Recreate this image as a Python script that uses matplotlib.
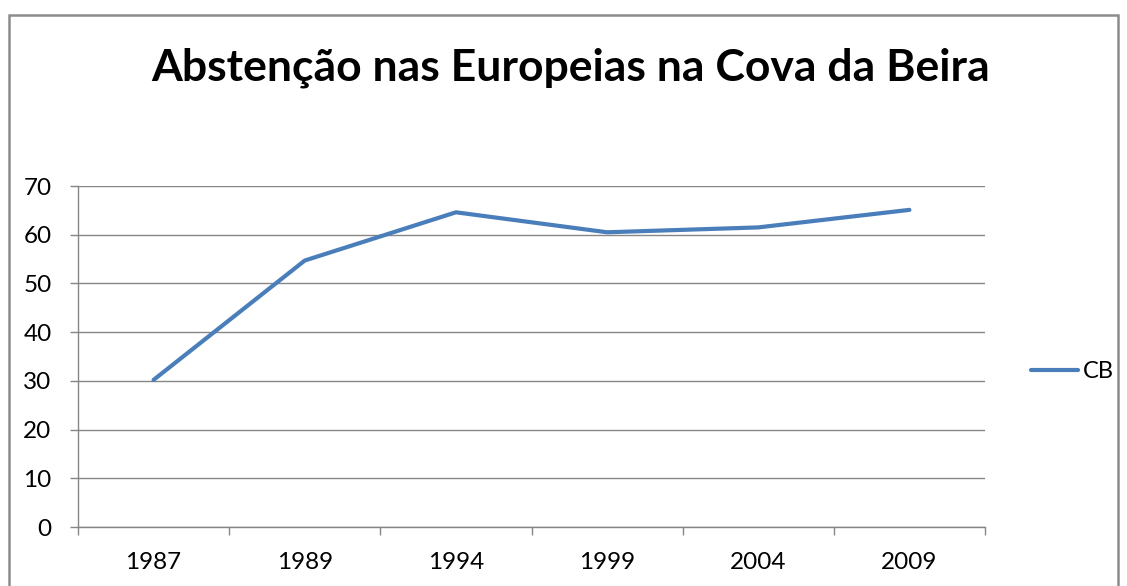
import numpy as np
import matplotlib
matplotlib.use("Agg")
import matplotlib.pyplot as plt
from matplotlib.patches import Rectangle

# data
years = ["1987", "1989", "1994", "1999", "2004", "2009"]
cb_values = [30.2, 54.7, 64.6, 60.5, 61.5, 65.1]
y_ticks = [0, 10, 20, 30, 40, 50, 60, 70]
title = "Abstenção nas Europeias na Cova da Beira"

plt.rcParams["font.family"] = ["Lato", "DejaVu Sans"]

W, H = 1127, 586
fig = plt.figure(figsize=(W / 100, H / 100), dpi=100)

# plot area in pixel coords of the reference
left, right, top, bottom = 78, 985, 186, 527
ax = fig.add_axes([left / W, (H - bottom) / H, (right - left) / W, (bottom - top) / H])

grid_col = "#868686"
line_col = "#4A7EBB"

x = np.arange(len(years))
ax.plot(x, cb_values, color=line_col, lw=3.0, solid_capstyle="round",
        solid_joinstyle="round", label="CB", zorder=3)

ax.set_xlim(-0.5, len(years) - 0.5)
ax.set_ylim(0, 70)
ax.set_yticks(y_ticks)
ax.yaxis.grid(True, color=grid_col, lw=1.0)
ax.set_axisbelow(True)

# category labels at centres, tick marks at boundaries
ax.set_xticks(x)
ax.set_xticklabels(years)
ax.set_xticks(np.arange(-0.5, len(years)), minor=True)
ax.tick_params(axis="x", which="major", length=0, pad=18, labelsize=17.5, colors="black")
ax.tick_params(axis="x", which="minor", length=6, width=1, color=grid_col, direction="out")
ax.tick_params(axis="y", length=6, width=1, color=grid_col, direction="out", pad=13,
               labelsize=17.5, labelcolor="black")

for s in ["top", "right"]:
    ax.spines[s].set_visible(False)
for s in ["left", "bottom"]:
    ax.spines[s].set_color(grid_col)
    ax.spines[s].set_linewidth(1.0)

fig.text(571 / W, 1 - 68 / H, title, ha="center", va="center",
         fontsize=32, fontweight="bold", color="black")

ax.legend(loc="center left", bbox_to_anchor=(1.04, 0.455), frameon=False,
          fontsize=17, handlelength=2.0, handletextpad=0.2, borderaxespad=0)

# outer chart border (bottom edge runs off the image)
fig.patches.append(Rectangle((9 / W, -0.05), (1118 - 9) / W, 1 - 15 / H + 0.05,
                             transform=fig.transFigure, fill=False,
                             edgecolor="#8c8c8c", lw=1.8))

fig.savefig("out.png", dpi=100)
